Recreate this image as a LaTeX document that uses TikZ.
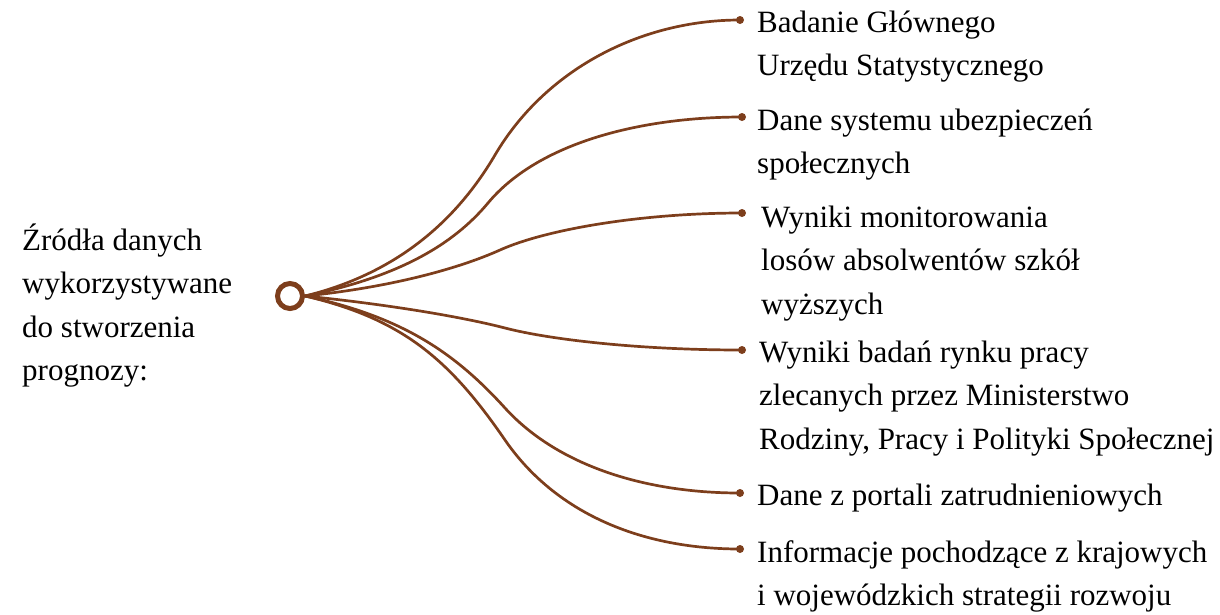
\documentclass[tikz,border=0pt]{standalone}
\usepackage{fontspec}
\setmainfont{Liberation Serif}
\definecolor{brn}{RGB}{125,62,28}
\newcommand\mlines[1]{\begin{tabular}[t]{@{}l@{}}#1\end{tabular}}
\begin{document}
\begin{tikzpicture}[x=1pt,y=-1pt,
  conn/.style={draw=brn, line width=2.7pt, line cap=round},
  enddot/.style={circle, fill=brn, inner sep=0pt, minimum size=8pt},
  lbl/.style={anchor=base west, inner sep=0pt, font=\fontsize{31}{43.5}\selectfont},
  hubstyle/.style={circle, draw=brn, line width=5pt, minimum size=25pt, inner sep=0pt}]
\useasboundingbox (0,0) rectangle (1220,614);

% hub and left text
\node[hubstyle] (hub) at (290,296) {};
\node[lbl] (src) at (22,250) {\mlines{Źródła danych\\wykorzystywane\\do stworzenia\\prognozy:}};

% end dots
\node[enddot] (d1) at (740,20) {};
\node[enddot] (d2) at (742,117) {};
\node[enddot] (d3) at (742,213) {};
\node[enddot] (d4) at (742,350) {};
\node[enddot] (d5) at (740,493) {};
\node[enddot] (d6) at (740,549) {};

% labels
\node[lbl] (t1) at (757,32) {\mlines{Badanie Głównego\\Urzędu Statystycznego}};
\node[lbl] (t2) at (757,130) {\mlines{Dane systemu ubezpieczeń\\społecznych}};
\node[lbl] (t3) at (761,227) {\mlines{Wyniki monitorowania\\losów absolwentów szkół\\wyższych}};
\node[lbl] (t4) at (759,362) {\mlines{Wyniki badań rynku pracy\\zlecanych przez Ministerstwo\\Rodziny, Pracy i Polityki Społecznej}};
\node[lbl] (t5) at (757,505) {\mlines{Dane z portali zatrudnieniowych}};
\node[lbl] (t6) at (757,562) {\mlines{Informacje pochodzące z krajowych\\i wojewódzkich strategii rozwoju}};

% connectors
\draw[conn] (hub.east) .. controls (403,272) and (460,214.5) .. (495,155)
                       .. controls (545,70) and (640,20) .. (d1.center);
\draw[conn] (hub.east) .. controls (398,277) and (453,245) .. (488,203)
                       .. controls (538,143) and (640,117) .. (d2.center);
\draw[conn] (hub.east) .. controls (393,287) and (460,268) .. (500,250)
                       .. controls (545,229.75) and (640,213) .. (d3.center);
\draw[conn] (hub.east) .. controls (393,305) and (465,317.6) .. (505,328)
                       .. controls (550,339.7) and (640,350) .. (d4.center);
\draw[conn] (hub.east) .. controls (403,317) and (455,353) .. (505,408)
                       .. controls (555,463) and (640,493) .. (d5.center);
\draw[conn] (hub.east) .. controls (403,319) and (450,360) .. (505,440)
                       .. controls (555,512.5) and (640,549) .. (d6.center);
\end{tikzpicture}
\end{document}
